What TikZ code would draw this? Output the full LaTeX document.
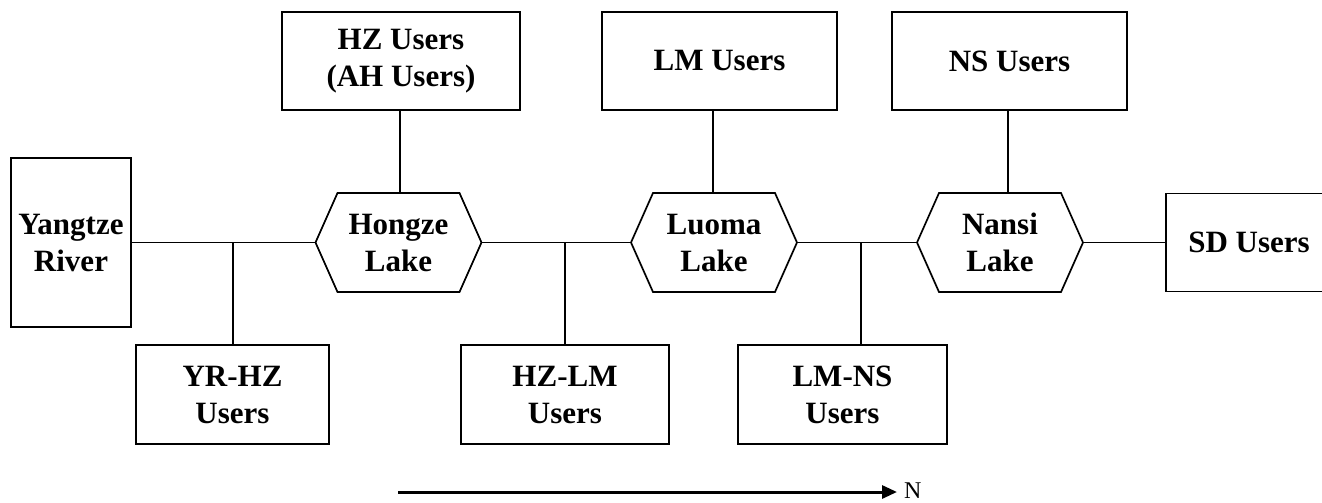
\documentclass[tikz,border=0pt]{standalone}
\usepackage{fontspec}
\setmainfont{Liberation Serif}
\usetikzlibrary{arrows.meta}

\tikzset{
  label font/.style={font=\bfseries\fontsize{31}{37}\selectfont},
  box/.style={draw, line width=1.7pt, inner sep=0pt, outer sep=0pt,
              align=center, label font},
  lakenode/.style={inner sep=0pt, outer sep=0pt, align=center, label font,
              minimum width=166pt, minimum height=99pt},
  link/.style={line width=1.7pt},
  hexline/.style={line width=1.7pt, line join=miter},
}

% flat-topped hexagon traced round a (borderless) lake node
\newcommand\lakeoutline[1]{%
  \draw[hexline] (#1.west) -- ([xshift=22pt]#1.north west)
    -- ([xshift=-22pt]#1.north east) -- (#1.east)
    -- ([xshift=-22pt]#1.south east) -- ([xshift=22pt]#1.south west) -- cycle;}

\begin{document}
\begin{tikzpicture}[x=1pt,y=-1pt]
  \clip (0,0) rectangle (1322,503);
  \fill[white] (0,0) rectangle (1322,503);

  % source and lakes along the route
  \node[box, minimum width=120pt, minimum height=169pt] (yr) at (71,242.5) {Yangtze\\River};
  \node[lakenode] (hz) at (398.5,242.5) {Hongze\\Lake};
  \node[lakenode] (lm) at (714,242.5) {Luoma\\Lake};
  \node[lakenode] (ns) at (1000,242.5) {Nansi\\Lake};
  \lakeoutline{hz}
  \lakeoutline{lm}
  \lakeoutline{ns}
  \node[box, minimum width=166pt, minimum height=98pt] (sd) at (1249,242.5) {SD Users};

  % users at each lake
  \node[box, minimum width=238pt, minimum height=98pt] (hzu) at (401,61) {HZ Users\\(AH Users)};
  \node[box, minimum width=235pt, minimum height=98pt] (lmu) at (719.5,61) {LM Users};
  \node[box, minimum width=235pt, minimum height=98pt] (nsu) at (1009.5,61) {NS Users};

  % users along the channels between lakes
  \node[box, minimum width=193pt, minimum height=99pt] (yrhz) at (232.5,394.5) {YR-HZ\\Users};
  \node[box, minimum width=208pt, minimum height=99pt] (hzlm) at (565,394.5) {HZ-LM\\Users};
  \node[box, minimum width=209pt, minimum height=99pt] (lmns) at (842.5,394.5) {LM-NS\\Users};

  % main route
  \draw[link] (yr.east) -- (hz.west);
  \draw[link] (hz.east) -- (lm.west);
  \draw[link] (lm.east) -- (ns.west);
  \draw[link] (ns.east) -- (sd.west);

  % branches to the channel users
  \coordinate (j1) at (233,242.5);
  \coordinate (j2) at (565,242.5);
  \coordinate (j3) at (861,242.5);
  \draw[link] (j1) -- (j1 |- yrhz.north);
  \draw[link] (j2) -- (j2 |- hzlm.north);
  \draw[link] (j3) -- (j3 |- lmns.north);

  % lakes to their users
  \draw[link] ([xshift=1.5pt]hz.north) -- ([xshift=1.5pt]hz.north |- hzu.south);
  \draw[link] ([xshift=-1pt]lm.north) -- ([xshift=-1pt]lm.north |- lmu.south);
  \draw[link] ([xshift=8pt]ns.north) -- ([xshift=8pt]ns.north |- nsu.south);

  % direction of flow
  \coordinate (nstart) at (398,492);
  \coordinate (nend) at (897,492);
  \node[anchor=west, inner sep=0pt, font=\fontsize{24}{28}\selectfont] (north) at (904,491) {N};
  \draw[line width=3pt, -{Triangle[length=15pt,width=13pt]}] (nstart) -- (nend);
\end{tikzpicture}
\end{document}
